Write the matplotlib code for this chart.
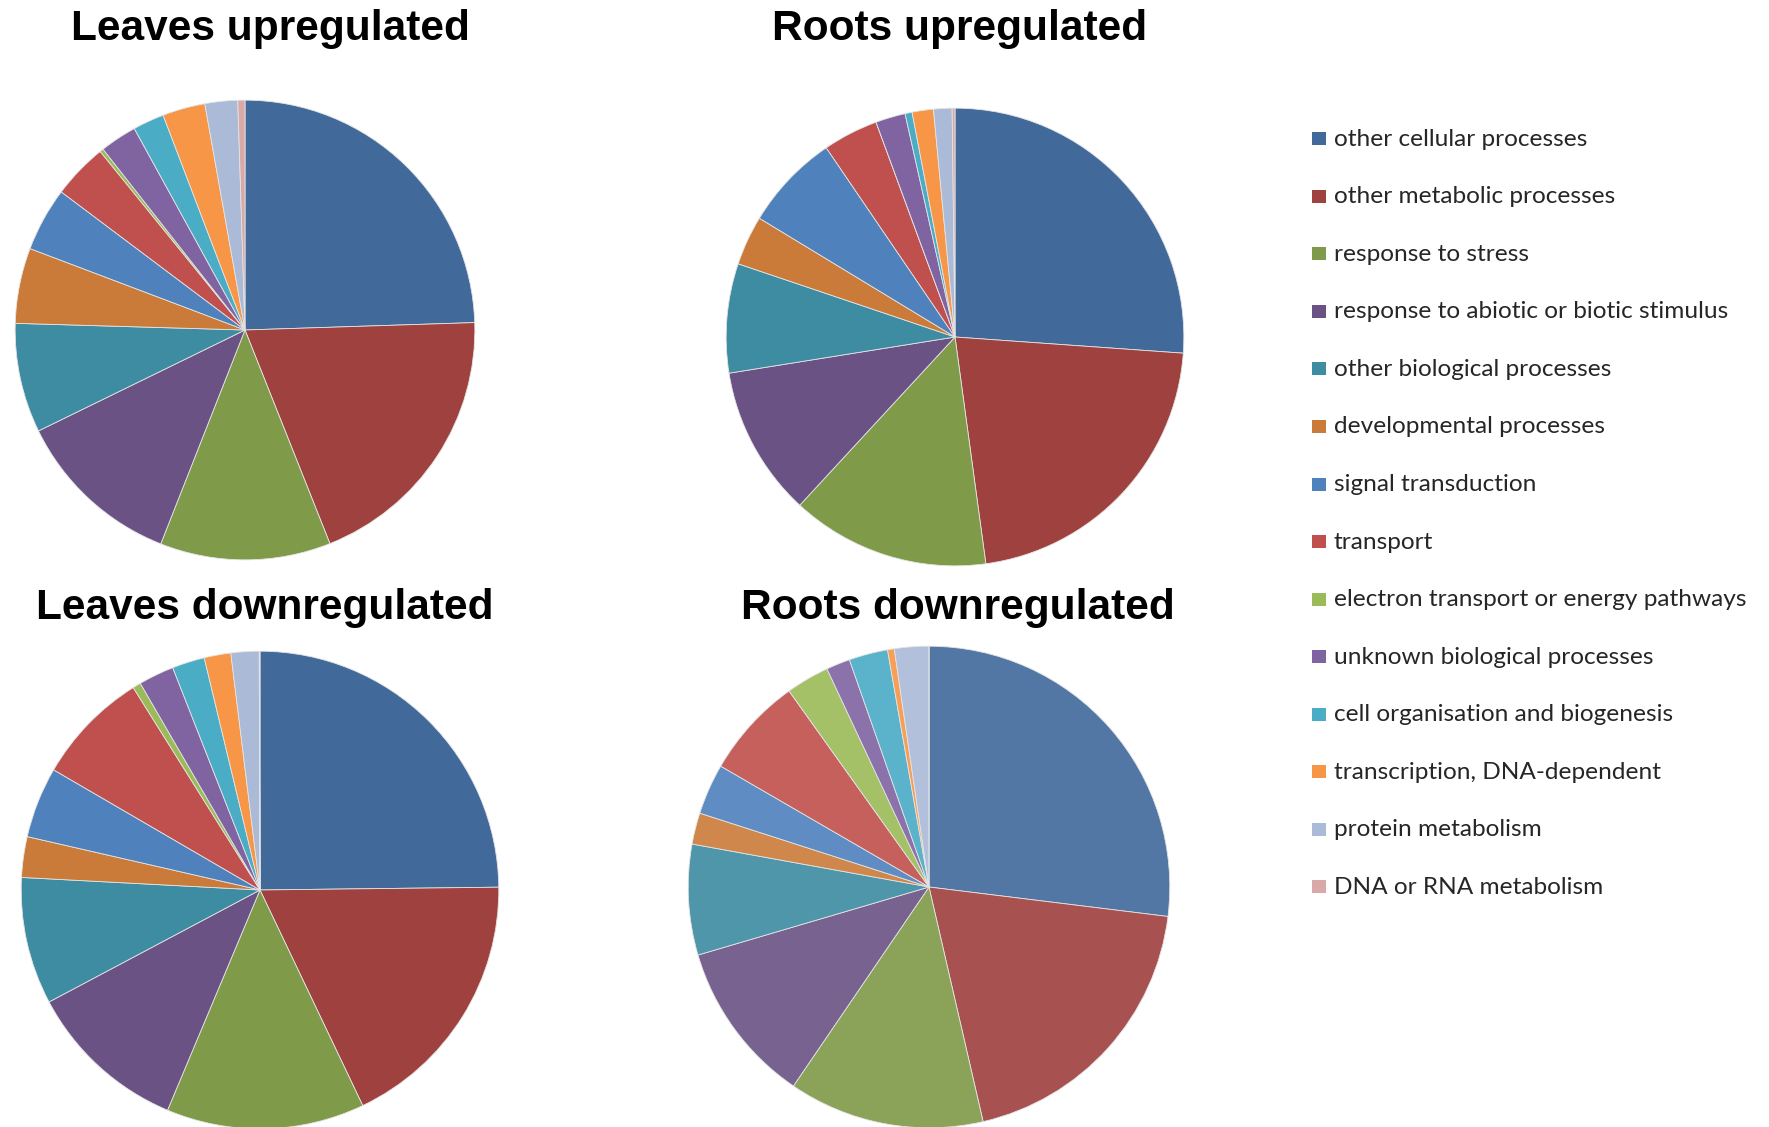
import matplotlib
matplotlib.use("Agg")
import matplotlib.pyplot as plt
from matplotlib.patches import Rectangle
from matplotlib.colors import to_rgb

W, H = 1769, 1127

categories = [
    "other cellular processes",
    "other metabolic processes",
    "response to stress",
    "response to abiotic or biotic stimulus",
    "other biological processes",
    "developmental processes",
    "signal transduction",
    "transport",
    "electron transport or energy pathways",
    "unknown biological processes",
    "cell organisation and biogenesis",
    "transcription, DNA-dependent",
    "protein metabolism",
    "DNA or RNA metabolism",
]

# percentage of genes per functional category
leaves_up = [24.5, 19.5, 12.0, 11.8, 7.7, 5.3, 4.5, 3.9, 0.25, 2.6, 2.2, 3.0, 2.3, 0.5]
roots_up = [26.1, 21.7, 14.0, 10.6, 7.7, 3.5, 6.8, 3.9, 0.0, 2.1, 0.5, 1.5, 1.3, 0.2]
leaves_down = [24.8, 18.1, 13.4, 10.9, 8.6, 2.75, 4.8, 7.7, 0.55, 2.4, 2.2, 1.8, 1.9, 0.05]
roots_down = [26.9, 19.4, 13.1, 10.9, 7.4, 2.1, 3.4, 6.75, 2.9, 1.6, 2.6, 0.45, 2.3, 0.0]

titles = ["Leaves upregulated", "Roots upregulated",
          "Leaves downregulated", "Roots downregulated"]

palette = ["#416A9B", "#9E413F", "#7F9A49", "#6A5285", "#3E8CA2", "#CB7B39",
           "#4F81BD", "#C0504D", "#9BBB59", "#8064A2", "#4BACC6", "#F79646",
           "#AABAD7", "#D9A9A8"]


def lighten(c, f):
    r, g, b = to_rgb(c)
    return (r + (1 - r) * f, g + (1 - g) * f, b + (1 - b) * f)


palette_light = [lighten(c, 0.09) for c in palette]

fig = plt.figure(figsize=(W / 100, H / 100), dpi=100)
fig.patch.set_facecolor("white")

# (center x, center y, radius) in pixels, title center x, title baseline y
layout = [
    (245, 330, 231, 270, 40),
    (955, 337, 230, 960, 40),
    (260, 890, 240, 265, 619),
    (929, 887, 242, 958, 619),
]
datasets = [leaves_up, roots_up, leaves_down, roots_down]
pie_colors = [palette, palette, palette, palette_light]

for (cx, cy, r, tx, ty), vals, cols, title in zip(layout, datasets, pie_colors, titles):
    ax = fig.add_axes([(cx - r) / W, 1 - (cy + r) / H, 2 * r / W, 2 * r / H])
    ax.pie(vals, colors=cols, startangle=90, counterclock=False, radius=1,
           wedgeprops=dict(edgecolor="#e4e4e4", linewidth=0.6))
    ax.set_xlim(-1.005, 1.005)
    ax.set_ylim(-1.005, 1.005)
    ax.set_aspect("auto")
    ax.axis("off")
    fig.text(tx / W, 1 - ty / H, title, ha="center", va="baseline",
             fontsize=30.5, fontweight="bold", family="Liberation Sans")

# legend
x_box, box_w, box_h = 1312, 14, 13
x_txt = 1334
y0, dy = 138.7, 57.55
for i, (lab, col) in enumerate(zip(categories, palette)):
    yc = y0 + i * dy
    fig.patches.append(Rectangle((x_box / W, 1 - (yc + box_h / 2) / H), box_w / W, box_h / H,
                                 transform=fig.transFigure, facecolor=col, edgecolor="none"))
    fig.text(x_txt / W, 1 - (yc + 7) / H, lab, ha="left", va="baseline",
             fontsize=17.6, family="Lato", color="#262626")

fig.savefig("out.png", dpi=100, facecolor="white")
